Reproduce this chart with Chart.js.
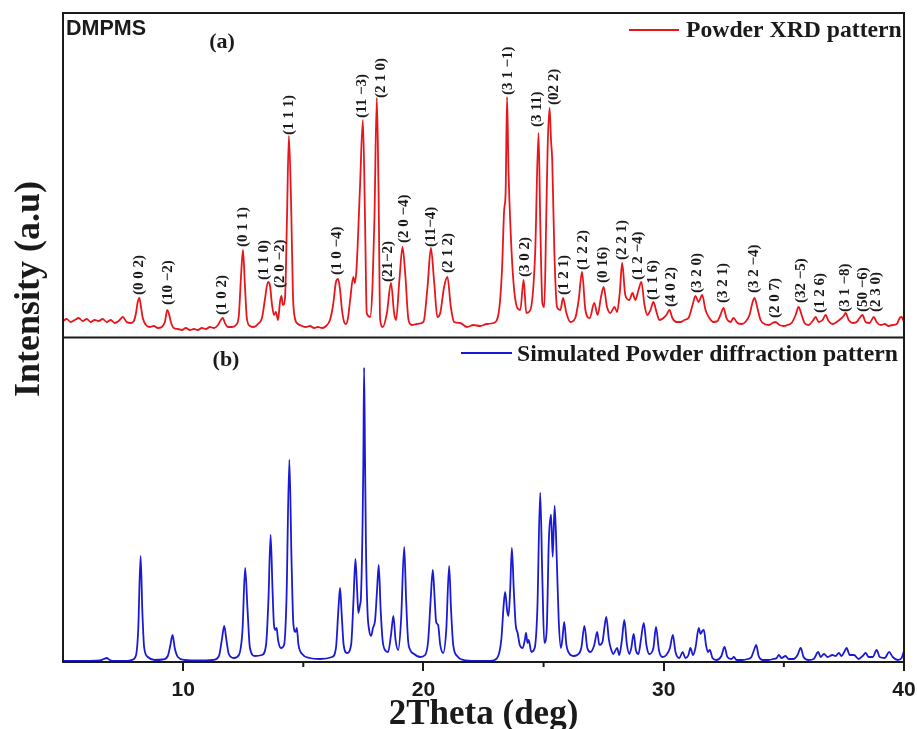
<!DOCTYPE html>
<html><head><meta charset="utf-8">
<script src="https://cdn.jsdelivr.net/npm/chart.js@4.4.1/dist/chart.umd.min.js"></script>
<style>html,body{margin:0;padding:0;background:#fff;overflow:hidden}#wrap{position:relative;width:917px;height:729px}</style>
</head><body><div id="wrap"><canvas id="c" width="917" height="729"></canvas></div>
<script>
// ---- Experimental powder XRD pattern (a) ----
const xpTwoTheta = [5.00,5.15,5.32,5.49,5.65,5.82,5.99,6.15,6.32,6.49,6.65,6.82,6.99,7.15,7.32,7.49,7.65,7.82,7.95,8.03,8.11,8.18,8.24,8.32,8.45,8.61,8.78,8.95,9.11,9.24,9.34,9.40,9.49,9.61,9.78,9.95,10.11,10.28,10.45,10.61,10.78,10.95,11.11,11.28,11.45,11.57,11.65,11.74,11.86,12.03,12.20,12.32,12.40,12.49,12.57,12.65,12.78,12.95,13.11,13.28,13.40,13.53,13.61,13.70,13.78,13.86,13.95,14.03,14.09,14.15,14.24,14.32,14.40,14.49,14.57,14.65,14.78,14.95,15.11,15.28,15.45,15.61,15.78,15.95,16.11,16.24,16.36,16.45,16.53,16.61,16.70,16.78,16.86,16.95,17.08,17.15,17.22,17.36,17.48,17.57,17.64,17.78,17.88,17.96,18.06,18.13,18.20,18.31,18.48,18.65,18.78,18.86,19.00,19.13,19.24,19.38,19.52,19.73,20.00,20.17,20.31,20.45,20.58,20.70,20.86,21.00,21.14,21.28,21.53,21.81,22.08,22.36,22.64,22.92,23.13,23.27,23.36,23.42,23.48,23.54,23.64,23.75,23.89,24.03,24.17,24.28,24.45,24.65,24.79,24.86,24.95,25.03,25.11,25.17,25.25,25.31,25.36,25.45,25.56,25.70,25.81,25.95,26.11,26.32,26.46,26.60,26.74,26.92,27.11,27.25,27.39,27.50,27.64,27.78,27.95,28.06,28.17,28.27,28.40,28.57,28.70,28.82,28.95,29.07,29.20,29.32,29.45,29.57,29.70,29.82,29.99,30.11,30.24,30.36,30.53,30.70,30.86,31.03,31.20,31.32,31.45,31.60,31.74,31.90,32.07,32.24,32.36,32.49,32.61,32.78,32.90,33.07,33.24,33.40,33.57,33.70,33.78,33.90,34.03,34.20,34.36,34.53,34.65,34.82,34.99,35.15,35.32,35.49,35.61,35.74,35.86,36.03,36.20,36.32,36.45,36.61,36.74,36.86,37.03,37.20,37.36,37.49,37.57,37.70,37.86,38.03,38.15,38.27,38.40,38.57,38.74,38.86,39.03,39.20,39.36,39.53,39.70,39.82,39.90,40.00];
const xpIntensity = [165,185,155,175,195,165,185,155,175,165,185,155,175,145,165,205,155,145,165,235,355,395,315,195,125,105,115,95,105,155,275,245,155,95,85,75,95,75,85,75,95,85,105,95,125,175,195,145,105,105,125,225,575,875,525,195,115,105,135,195,375,555,525,325,225,255,175,355,415,325,395,1175,2015,1375,425,195,135,115,105,115,95,105,95,115,175,325,555,585,475,275,155,135,195,375,605,545,705,1505,2175,1175,245,205,505,1175,2395,1505,175,105,245,545,245,175,575,905,645,175,125,135,155,505,895,545,205,245,505,605,305,155,145,105,125,115,135,145,245,675,1275,1445,2405,1675,1005,545,305,275,575,245,275,845,2045,1175,345,305,1175,1905,2295,1975,1775,845,305,275,395,245,155,195,375,655,275,195,345,225,405,505,305,245,305,255,445,745,425,375,445,375,475,555,325,225,275,355,255,175,195,225,275,195,155,155,175,195,325,415,355,425,275,195,155,165,225,295,195,155,195,145,135,155,225,355,395,295,175,135,125,145,155,125,115,125,145,225,305,225,145,125,165,205,155,175,225,165,135,155,185,215,245,175,145,155,195,225,155,145,205,155,125,135,115,125,135,195,205,155];

// ---- Simulated powder diffraction pattern (b) ----
const simTwoTheta = [5.00,6.11,6.53,6.70,6.82,6.95,7.15,7.57,7.86,8.03,8.13,8.23,8.30,8.38,8.53,8.82,9.15,9.36,9.47,9.56,9.65,9.78,10.07,10.70,11.24,11.49,11.61,11.71,11.80,11.90,12.11,12.32,12.47,12.58,12.68,12.78,12.99,13.28,13.45,13.55,13.64,13.72,13.78,13.84,13.89,13.95,14.07,14.20,14.30,14.42,14.51,14.59,14.68,14.73,14.80,14.95,15.28,15.70,16.20,16.36,16.46,16.53,16.60,16.68,16.82,16.99,17.09,17.17,17.24,17.29,17.36,17.40,17.47,17.50,17.53,17.57,17.61,17.67,17.74,17.82,17.90,17.99,18.07,18.14,18.22,18.30,18.40,18.53,18.65,18.75,18.84,18.95,19.07,19.20,19.28,19.36,19.45,19.61,19.86,20.07,20.20,20.30,20.39,20.47,20.53,20.61,20.70,20.82,20.95,21.07,21.15,21.24,21.40,21.65,22.15,22.78,23.07,23.24,23.34,23.40,23.49,23.54,23.61,23.68,23.76,23.84,23.92,24.01,24.13,24.22,24.27,24.33,24.38,24.49,24.63,24.74,24.86,24.95,25.03,25.13,25.22,25.31,25.38,25.46,25.55,25.63,25.72,25.78,25.86,25.95,26.03,26.24,26.40,26.57,26.70,26.82,26.95,27.11,27.23,27.32,27.45,27.53,27.61,27.72,27.82,27.90,28.06,28.15,28.26,28.36,28.47,28.57,28.65,28.75,28.84,28.95,29.05,29.17,29.28,29.40,29.57,29.68,29.80,29.95,30.11,30.26,30.38,30.49,30.65,30.79,30.90,31.03,31.11,31.22,31.32,31.46,31.53,31.61,31.67,31.76,31.84,31.92,32.03,32.20,32.40,32.53,32.65,32.82,32.92,33.03,33.28,33.49,33.65,33.76,33.85,33.95,34.11,34.36,34.57,34.70,34.79,34.90,35.07,35.20,35.40,35.57,35.70,35.82,36.03,36.24,36.43,36.53,36.67,36.82,37.02,37.15,37.29,37.40,37.51,37.61,37.74,37.92,38.11,38.28,38.40,38.53,38.70,38.86,38.99,39.20,39.38,39.53,39.74,39.90,40.00];
const simIntensity = [10,10,15,30,40,20,10,10,20,60,320,1060,520,140,50,20,25,60,170,270,140,50,20,15,20,60,220,360,220,80,40,70,320,940,520,140,60,70,170,620,1270,720,370,320,340,220,140,170,620,2020,1020,370,300,340,170,80,40,30,50,140,520,740,470,170,90,170,620,1030,720,490,570,650,1420,2020,2940,2020,1120,520,320,260,340,420,720,970,520,220,120,100,270,460,220,120,420,1150,620,220,120,80,50,70,220,620,920,620,400,370,170,90,320,960,520,170,60,20,10,10,40,220,570,700,500,460,720,1140,720,370,290,170,140,220,290,190,220,100,140,520,1690,820,190,320,1220,1470,1050,1560,1020,420,140,220,400,170,100,60,70,140,360,140,100,170,300,170,200,340,450,220,120,80,140,70,220,420,170,80,140,280,120,80,220,390,170,80,140,350,120,50,70,140,270,100,40,100,40,70,140,70,140,340,280,310,320,170,100,120,40,20,60,150,50,30,50,20,20,30,50,120,170,60,20,20,30,40,70,40,60,30,30,70,140,50,20,30,100,50,80,50,70,60,90,60,100,140,70,70,30,60,90,50,50,120,50,40,100,50,20,40,110];

// ---- Axis ticks ----
const xTickValues = [10, 20, 30, 40];
const xMinorTickValues = [15, 25, 35];

// ---- Miller-index labels of panel (a) ----
const hklLabels = ["(0 0 2)","(10 \u22122)","(1 0 2)","(0 1 1)","(1 1 0)","(2 0 \u22122)","(1 1 1)","(1 0 \u22124)","(11 \u22123)","(2 1 0)","(21\u22122)","(2 0 \u22124)","(11\u22124)","(2 1 2)","(3 1 \u22121)","(3 0 2)","(3 11)","(02 2)","(1 2 1)","(1 2 2)","(0 16)","(2 2 1)","(1 2 \u22124)","(1 1 6)","(4 0 2)","(3 2 0)","(3 2 1)","(3 2 \u22124)","(2 0 7)","(32 \u22125)","(1 2 6)","(3 1 \u22128)","(50 \u22126)","(2 3 0)"];
const hklTwoTheta = [8.15,9.36,11.61,12.49,13.36,14.03,14.40,16.40,17.45,18.24,18.53,19.20,20.31,21.03,23.53,24.24,24.73,25.45,25.86,26.65,27.49,28.28,28.95,29.57,30.32,31.40,32.49,33.78,34.65,35.70,36.53,37.57,38.28,38.82];
const hklLabelBase = [425,325,225,905,575,495,2025,625,2195,2395,555,945,905,645,2425,605,2105,2325,425,675,545,775,575,375,305,445,345,445,195,345,245,255,255,255];

const seriesNames = ["Powder XRD pattern", "Simulated Powder diffraction pattern"];
const RED = '#e8161b', BLUE = '#1a1ad6', INK = '#1a1a1a';

const decor = {
  id: 'decor',
  afterDraw(chart) {
    const {ctx, chartArea: a, scales} = chart;
    const x = scales.x, yT = scales.yTop;
    const mid = yT.bottom;
    ctx.save();
    ctx.strokeStyle = INK; ctx.lineWidth = 2;
    ctx.strokeRect(a.left, a.top, a.right - a.left, a.bottom - a.top);
    ctx.beginPath(); ctx.moveTo(a.left, mid); ctx.lineTo(a.right, mid); ctx.stroke();
    // minor ticks
    ctx.beginPath();
    xMinorTickValues.forEach(v => { const p = x.getPixelForValue(v); ctx.moveTo(p, a.bottom); ctx.lineTo(p, a.bottom + 5); });
    ctx.stroke();
    // hkl labels
    ctx.fillStyle = INK;
    ctx.font = 'bold 15px "Liberation Serif", "Times New Roman", serif';
    ctx.textAlign = 'left'; ctx.textBaseline = 'middle';
    hklLabels.forEach((t, i) => {
      const px = x.getPixelForValue(hklTwoTheta[i]);
      const py = yT.getPixelForValue(hklLabelBase[i]);
      ctx.save(); ctx.translate(px, py); ctx.rotate(-Math.PI / 2); ctx.fillText(t, 0, 0); ctx.restore();
    });
    // sample name and panel tags
    ctx.textBaseline = 'alphabetic';
    ctx.font = 'bold 21.5px "Liberation Sans", Arial, sans-serif';
    ctx.textAlign = 'left';
    ctx.fillText('DMPMS', a.left + 3, a.top + 22);
    ctx.font = 'bold 22px "Liberation Serif", "Times New Roman", serif';
    ctx.textAlign = 'center';
    ctx.fillText('(a)', 222, 48);
    ctx.fillText('(b)', 226, 366);
    // legends
    ctx.font = 'bold 23.7px "Liberation Serif", "Times New Roman", serif';
    ctx.textAlign = 'left';
    ctx.lineWidth = 2;
    ctx.strokeStyle = RED; ctx.beginPath(); ctx.moveTo(629, 30); ctx.lineTo(679, 30); ctx.stroke();
    ctx.fillText(seriesNames[0], 686, 37);
    ctx.strokeStyle = BLUE; ctx.beginPath(); ctx.moveTo(461, 353); ctx.lineTo(512, 353); ctx.stroke();
    ctx.fillText(seriesNames[1], 517, 361);
    // axis titles
    ctx.font = 'bold 35px "Liberation Serif", "Times New Roman", serif';
    ctx.textAlign = 'center';
    ctx.fillText('2Theta (deg)', (a.left + a.right) / 2, 724);
    ctx.save(); ctx.translate(39, 289); ctx.rotate(-Math.PI / 2);
    ctx.font = 'bold 36px "Liberation Serif", "Times New Roman", serif';
    ctx.fillText('Intensity (a.u)', 0, 0); ctx.restore();
    ctx.restore();
  }
};

const hiddenY = (max) => ({
  type: 'linear', position: 'left', stack: 'panels', stackWeight: 1, min: 0, max: max,
  ticks: {display: false}, grid: {display: false}, border: {display: false},
  afterFit: s => { s.width = 0; s.paddingTop = 0; s.paddingBottom = 0; s.paddingLeft = 0; s.paddingRight = 0; }
});

new Chart(document.getElementById('c'), {
  type: 'line',
  data: {
    datasets: [
      {label: seriesNames[0], yAxisID: 'yTop', data: xpTwoTheta.map((v, i) => ({x: v, y: xpIntensity[i]})),
       borderColor: RED, borderWidth: 1.8, pointRadius: 0, cubicInterpolationMode: 'monotone', fill: false},
      {label: seriesNames[1], yAxisID: 'yBot', data: simTwoTheta.map((v, i) => ({x: v, y: simIntensity[i]})),
       borderColor: BLUE, borderWidth: 1.8, pointRadius: 0, cubicInterpolationMode: 'monotone', fill: false}
    ]
  },
  options: {
    responsive: false, animation: false, events: [],
    layout: {padding: {left: 63, right: 13, top: 13, bottom: 27}},
    plugins: {legend: {display: false}, tooltip: {enabled: false}},
    scales: {
      x: {
        type: 'linear', position: 'bottom', min: 5, max: 40,
        afterBuildTicks: s => { s.ticks = xTickValues.map(v => ({value: v})); },
        afterFit: s => { s.height = 40; s.paddingLeft = 0; s.paddingRight = 0; s.paddingTop = 0; s.paddingBottom = 0; },
        grid: {display: true, drawOnChartArea: false, drawTicks: true, tickLength: 9, color: INK, lineWidth: 2},
        border: {display: true, color: INK, width: 2},
        ticks: {color: INK, padding: 7, maxRotation: 0, autoSkip: false,
                font: {family: '"Liberation Sans", Arial, sans-serif', size: 21, weight: 'bold'}}
      },
      yBot: hiddenY(3240),
      yTop: hiddenY(3245)
    }
  },
  plugins: [decor]
});
</script></body></html>
